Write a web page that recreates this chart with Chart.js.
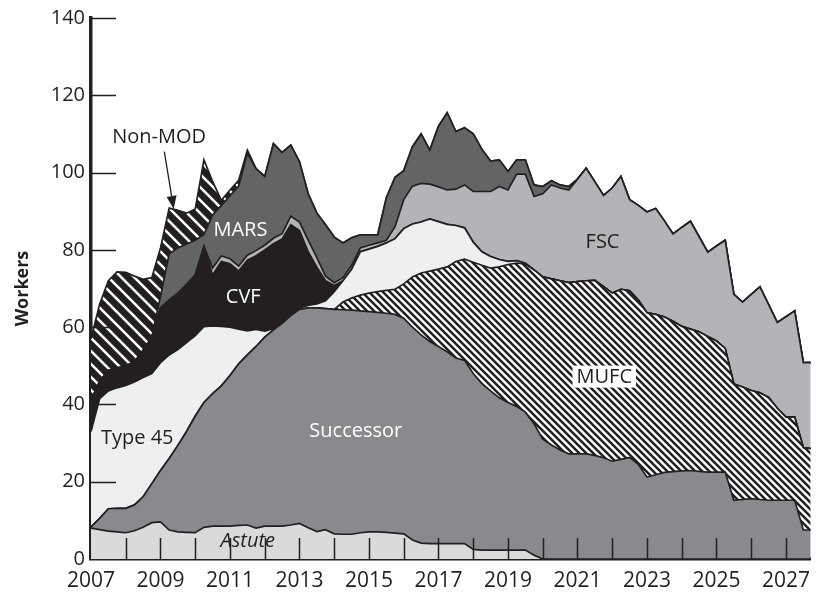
<!DOCTYPE html>
<html>
<head>
<meta charset="utf-8">
<script src="https://cdn.jsdelivr.net/npm/chart.js@4.4.1/dist/chart.umd.min.js"></script>
<style>
  html, body { margin: 0; padding: 0; background: #fff; }
  canvas { display: block; }
</style>
</head>
<body>
<canvas id="chart" width="819" height="594"></canvas>
<script>
// quarterly points, 2007 Q1 .. 2027 Q4
const quarters = [
  2007, 2007.25, 2007.5, 2007.75, 2008, 2008.25, 2008.5, 2008.75,
  2009, 2009.25, 2009.5, 2009.75, 2010, 2010.25, 2010.5, 2010.75,
  2011, 2011.25, 2011.5, 2011.75, 2012, 2012.25, 2012.5, 2012.75,
  2013, 2013.25, 2013.5, 2013.75, 2014, 2014.25, 2014.5, 2014.75,
  2015, 2015.25, 2015.5, 2015.75, 2016, 2016.25, 2016.5, 2016.75,
  2017, 2017.25, 2017.5, 2017.75, 2018, 2018.25, 2018.5, 2018.75,
  2019, 2019.25, 2019.5, 2019.75, 2020, 2020.25, 2020.5, 2020.75,
  2021, 2021.25, 2021.5, 2021.75, 2022, 2022.25, 2022.5, 2022.75,
  2023, 2023.25, 2023.5, 2023.75, 2024, 2024.25, 2024.5, 2024.75,
  2025, 2025.25, 2025.5, 2025.75, 2026, 2026.25, 2026.5, 2026.75,
  2027, 2027.25, 2027.5, 2027.75
];

// workers per programme, one row per year (4 quarters)
const astute = [
  8.0, 7.6, 7.2, 7.0,   6.8, 7.3, 8.2, 9.4,   9.6, 7.5, 7.0, 6.9,
  6.8, 8.2, 8.5, 8.5,   8.5, 8.7, 8.8, 8.0,   8.5, 8.5, 8.5, 8.8,
  9.2, 8.1, 7.1, 7.6,   6.5, 6.4, 6.4, 6.8,   7.0, 7.0, 6.9, 6.7,
  6.5, 4.9, 4.1, 4.0,   4.0, 4.0, 4.0, 4.0,   2.5, 2.3, 2.3, 2.3,
  2.3, 2.3, 2.3, 1.0,   0, 0, 0, 0,           0, 0, 0, 0,
  0, 0, 0, 0,           0, 0, 0, 0,           0, 0, 0, 0,
  0, 0, 0, 0,           0, 0, 0, 0,           0, 0, 0, 0
];
const successor = [
  0.3, 2.9, 5.8, 6.1,       6.3, 6.7, 7.9, 10.1,      13.3, 18.5, 22.4, 26.1,
  30.2, 32.3, 34.3, 36.3,   39.0, 41.8, 44.0, 47.0,   48.9, 50.8, 52.5, 54.2,
  55.4, 56.9, 57.9, 57.2,   58.1, 58.1, 58.0, 57.4,   57.0, 56.8, 56.7, 56.6,
  55.8, 55.1, 53.9, 52.3,   51.0, 49.6, 48.0, 47.4,   45.5, 43.1, 41.2, 39.4,
  38.2, 37.2, 35.7, 34.0,   31.0, 29.5, 28.2, 27.2,   27.2, 27.2, 26.8, 26.2,
  25.3, 25.8, 26.3, 24.5,   21.2, 21.8, 22.4, 22.6,   22.8, 22.9, 22.7, 22.5,
  22.5, 22.5, 15.2, 15.4,   15.6, 15.4, 15.2, 15.2,   15.2, 15.2, 7.5, 7.5
];
const mufc = [
  0, 0, 0, 0,               0, 0, 0, 0,               0, 0, 0, 0,
  0, 0, 0, 0,               0, 0, 0, 0,               0, 0, 0, 0,
  0, 0, 0, 0,               0, 2.0, 3.1, 4.1,         4.8, 5.4, 5.9, 6.5,
  8.9, 13.0, 16.0, 18.2,    20.0, 22.0, 25.0, 26.2,   28.8, 30.6, 31.8, 33.9,
  35.7, 37.1, 38.3, 39.8,   42.0, 43.0, 43.8, 44.3,   44.6, 44.8, 45.3, 44.3,
  43.5, 44.0, 43.1, 42.5,   42.5, 41.5, 40.2, 38.9,   37.4, 36.6, 36.1, 35.1,
  33.9, 32.0, 30.1, 29.1,   28.0, 27.6, 26.6, 23.8,   21.5, 21.5, 21.3, 21.0
];
const type45 = [
  24.7, 31.0, 30.5, 31.2,   31.8, 31.8, 30.9, 28.5,   27.9, 26.8, 24.8, 23.0,
  20.8, 19.6, 17.5, 15.4,   12.5, 9.0, 6.2, 4.4,      1.6, 0.3, 0.3, 0.2,
  0.4, 0.6, 1.0, 2.0,       4.6, 5.5, 7.5, 11.2,      11.4, 11.7, 12.3, 13.1,
  14.3, 13.7, 13.2, 13.5,   12.3, 11.0, 9.3, 8.1,     5.2, 3.5, 3.0, 1.9,
  0.8, 0.6, 0.2, 0,         0, 0, 0, 0,               0, 0, 0, 0,
  0, 0, 0, 0,               0, 0, 0, 0,               0, 0, 0, 0,
  0, 0, 0, 0,               0, 0, 0, 0,               0, 0, 0, 0
];
const cvf = [
  8.0, 4.5, 5.3, 5.1,       5.1, 5.2, 7.0, 9.3,       14.2, 14.2, 14.6, 15.0,
  15.7, 20.8, 13.2, 16.8,   16.4, 15.0, 18.3, 19.1,   21.0, 22.0, 21.5, 23.3,
  20.0, 13.9, 9.5, 5.2,     1.6, 0, 0, 0,             0, 0, 0, 0,
  0, 0, 0, 0,               0, 0, 0, 0,               0, 0, 0, 0,
  0, 0, 0, 0,               0, 0, 0, 0,               0, 0, 0, 0,
  0, 0, 0, 0,               0, 0, 0, 0,               0, 0, 0, 0,
  0, 0, 0, 0,               0, 0, 0, 0,               0, 0, 0, 0
];
const fsc = [
  0, 0, 0, 0,               0, 0, 0, 0,               0, 0, 0, 0,
  0, 0, 1.8, 1.4,           1.3, 1.3, 1.3, 1.3,       1.2, 1.4, 1.4, 2.2,
  2.2, 3.0, 2.5, 1.2,       0.7, 0.8, 1.0, 1.0,       1.0, 0.9, 0.7, 3.1,
  7.5, 9.8, 10.0, 9.0,      9.0, 8.9, 9.4, 11.1,      13.1, 15.6, 16.8, 18.9,
  18.5, 22.4, 23.1, 19.0,   21.5, 24.3, 24.0, 24.0,   26.5, 29.1, 25.5, 23.6,
  27.2, 29.2, 23.6, 24.5,   26.1, 27.4, 24.9, 22.6,   25.6, 27.9, 24.6, 21.8,
  24.6, 28.0, 23.2, 22.0,   24.9, 27.4, 24.0, 22.2,   26.0, 27.5, 22.0, 22.3
];
const mars = [
  0, 0, 0, 0,               0, 0, 0, 0.2,             3.0, 12.0, 11.7, 10.5,
  9.0, 3.1, 13.7, 13.1,     16.3, 20.7, 26.4, 21.2,   17.8, 24.5, 21.0, 18.4,
  15.6, 12.0, 11.5, 13.3,   11.8, 9.0, 7.1, 3.4,      2.7, 2.1, 11.0, 12.8,
  7.5, 10.2, 12.8, 8.8,     15.7, 20.0, 14.9, 14.8,   14.9, 10.9, 7.9, 6.9,
  4.8, 3.7, 3.7, 3.0,       1.9, 1.1, 0.8, 0.9,       0, 0, 0, 0,
  0, 0, 0, 0,               0, 0, 0, 0,               0, 0, 0, 0,
  0, 0, 0, 0,               0, 0, 0, 0,               0, 0, 0, 0
];
const nonMod = [
  16.0, 20.0, 23.2, 24.9,   24.2, 22.2, 18.4, 15.3,   12.5, 11.8, 9.7, 8.0,
  8.1, 19.3, 8.7, 1.3,      1.5, 1.5, 0.8, 0,         0, 0, 0, 0,
  0, 0, 0, 0,               0, 0, 0, 0,               0, 0, 0, 0,
  0, 0, 0, 0,               0, 0, 0, 0,               0, 0, 0, 0,
  0, 0, 0, 0,               0, 0, 0, 0,               0, 0, 0, 0,
  0, 0, 0, 0,               0, 0, 0, 0,               0, 0, 0, 0,
  0, 0, 0, 0,               0, 0, 0, 0,               0, 0, 0, 0
];

const yearLabels = [2007, 2009, 2011, 2013, 2015, 2017, 2019, 2021, 2023, 2025, 2027];
const yearTicks = [2008, 2009, 2010, 2011, 2012, 2013, 2014, 2015, 2016, 2017,
  2018, 2019, 2020, 2021, 2022, 2023, 2024, 2025, 2026, 2027];
const workerTicks = [20, 40, 60, 80, 100, 120, 140];

// text placed in data units
const areaLabels = [
  { text: 'Non-MOD', x: 2008.96, y: 109.5, color: '#231f20' },
  { text: 'MARS', x: 2011.30, y: 85.2, color: '#ffffff' },
  { text: 'CVF', x: 2011.38, y: 68.0, color: '#ffffff' },
  { text: 'FSC', x: 2021.72, y: 82.2, color: '#231f20' },
  { text: 'MUFC', x: 2021.77, y: 47.2, color: '#231f20', box: true },
  { text: 'Successor', x: 2014.62, y: 33.2, color: '#ffffff' },
  { text: 'Type 45', x: 2008.33, y: 31.5, color: '#231f20' },
  { text: 'Astute', x: 2011.51, y: 4.9, color: '#231f20', italic: true }
];
const arrowFrom = { x: 2009.11, y: 105.4 };
const arrowTo = { x: 2009.38, y: 90.6 };

const INK = '#231f20';
const FONT = "'Open Sans', 'DejaVu Sans', sans-serif";

// diagonal hatching (top-left to bottom-right)
function stripes(period, lineW, bg, fg) {
  const c = document.createElement('canvas');
  c.width = period; c.height = period;
  const g = c.getContext('2d');
  g.fillStyle = bg;
  g.fillRect(0, 0, period, period);
  g.strokeStyle = fg;
  g.lineWidth = lineW;
  g.beginPath();
  for (let k = -1; k <= 1; k++) {
    g.moveTo(k * period - 1, -1);
    g.lineTo(k * period + period + 1, period + 1);
  }
  g.stroke();
  return g.createPattern(c, 'repeat');
}

const ctx = document.getElementById('chart').getContext('2d');
const mufcHatch = stripes(7, 2.5, '#ffffff', INK);
const nonModHatch = stripes(13, 2.6, INK, '#ffffff');

function toPoints(values) {
  return values.map((v, i) => ({ x: quarters[i], y: v }));
}

const layers = [
  { label: 'Astute', values: astute, fill: '#d9dadc' },
  { label: 'Successor', values: successor, fill: '#898a8d' },
  { label: 'MUFC', values: mufc, fill: mufcHatch },
  { label: 'Type 45', values: type45, fill: '#eeeff0' },
  { label: 'CVF', values: cvf, fill: INK },
  { label: 'FSC', values: fsc, fill: '#b3b4b7' },
  { label: 'MARS', values: mars, fill: '#636466' },
  { label: 'Non-MOD', values: nonMod, fill: nonModHatch }
];

// inward tick marks, area labels and the Non-MOD arrow
const decorPlugin = {
  id: 'decor',
  afterDatasetsDraw(chart) {
    const { ctx, chartArea, scales: { x, y } } = chart;
    ctx.save();
    ctx.strokeStyle = INK;
    ctx.lineWidth = 1.5;
    ctx.beginPath();
    yearTicks.forEach(v => {
      const px = Math.round(x.getPixelForValue(v)) + 0.5;
      ctx.moveTo(px, chartArea.bottom);
      ctx.lineTo(px, chartArea.bottom - 21);
    });
    workerTicks.forEach(v => {
      const py = Math.round(y.getPixelForValue(v)) + 0.5;
      ctx.moveTo(chartArea.left, py);
      ctx.lineTo(chartArea.left + 25, py);
    });
    ctx.stroke();

    // arrow
    const x1 = x.getPixelForValue(arrowFrom.x), y1 = y.getPixelForValue(arrowFrom.y);
    const x2 = x.getPixelForValue(arrowTo.x), y2 = y.getPixelForValue(arrowTo.y);
    const ang = Math.atan2(y2 - y1, x2 - x1);
    const head = 13, half = 5;
    ctx.lineWidth = 1.3;
    ctx.beginPath();
    ctx.moveTo(x1, y1);
    ctx.lineTo(x2 - Math.cos(ang) * head, y2 - Math.sin(ang) * head);
    ctx.stroke();
    ctx.fillStyle = INK;
    ctx.beginPath();
    ctx.moveTo(x2, y2);
    ctx.lineTo(x2 - Math.cos(ang) * head - Math.sin(ang) * half, y2 - Math.sin(ang) * head + Math.cos(ang) * half);
    ctx.lineTo(x2 - Math.cos(ang) * head + Math.sin(ang) * half, y2 - Math.sin(ang) * head - Math.cos(ang) * half);
    ctx.closePath();
    ctx.fill();

    // labels
    ctx.textAlign = 'center';
    ctx.textBaseline = 'middle';
    areaLabels.forEach(l => {
      const px = x.getPixelForValue(l.x), py = y.getPixelForValue(l.y);
      ctx.font = (l.italic ? 'italic ' : '') + '20px ' + FONT;
      if (l.box) {
        const w = ctx.measureText(l.text).width;
        ctx.fillStyle = '#ffffff';
        ctx.fillRect(px - w / 2 - 4, py - 11, w + 8, 22);
      }
      ctx.fillStyle = l.color;
      ctx.fillText(l.text, px, py + 1);
    });
    ctx.restore();
  }
};

new Chart(ctx, {
  type: 'line',
  data: {
    datasets: layers.map((l, i) => ({
      label: l.label,
      data: toPoints(l.values),
      backgroundColor: l.fill,
      borderColor: INK,
      borderWidth: 1.7,
      fill: i === 0 ? 'origin' : '-1',
      pointRadius: 0,
      tension: 0
    }))
  },
  options: {
    responsive: false,
    animation: false,
    layout: { padding: { top: 16, right: 0, bottom: 0, left: 0 } },
    plugins: {
      legend: { display: false },
      tooltip: { enabled: false }
    },
    scales: {
      x: {
        type: 'linear',
        min: 2007,
        max: 2027.71,
        grid: { display: false, drawTicks: false },
        border: { display: true, color: INK, width: 3.5 },
        afterBuildTicks: s => { s.ticks = yearLabels.map(v => ({ value: v })); },
        afterFit: s => { s.height = 35; },
        ticks: {
          color: INK,
          font: { family: FONT, size: 21 },
          padding: 9,
          maxRotation: 0,
          autoSkip: false,
          callback: v => String(v)
        }
      },
      y: {
        stacked: true,
        min: 0,
        max: 140,
        grid: { display: false, drawTicks: false },
        border: { display: true, color: INK, width: 3.5 },
        afterFit: s => { s.width = 91; },
        ticks: {
          stepSize: 20,
          color: INK,
          font: { family: FONT, size: 20 },
          padding: 6
        },
        title: {
          display: true,
          text: 'Workers',
          color: INK,
          font: { family: FONT, size: 18, weight: 'bold' },
          padding: { top: 12, bottom: 0 }
        }
      }
    }
  },
  plugins: [decorPlugin]
});
</script>
</body>
</html>
